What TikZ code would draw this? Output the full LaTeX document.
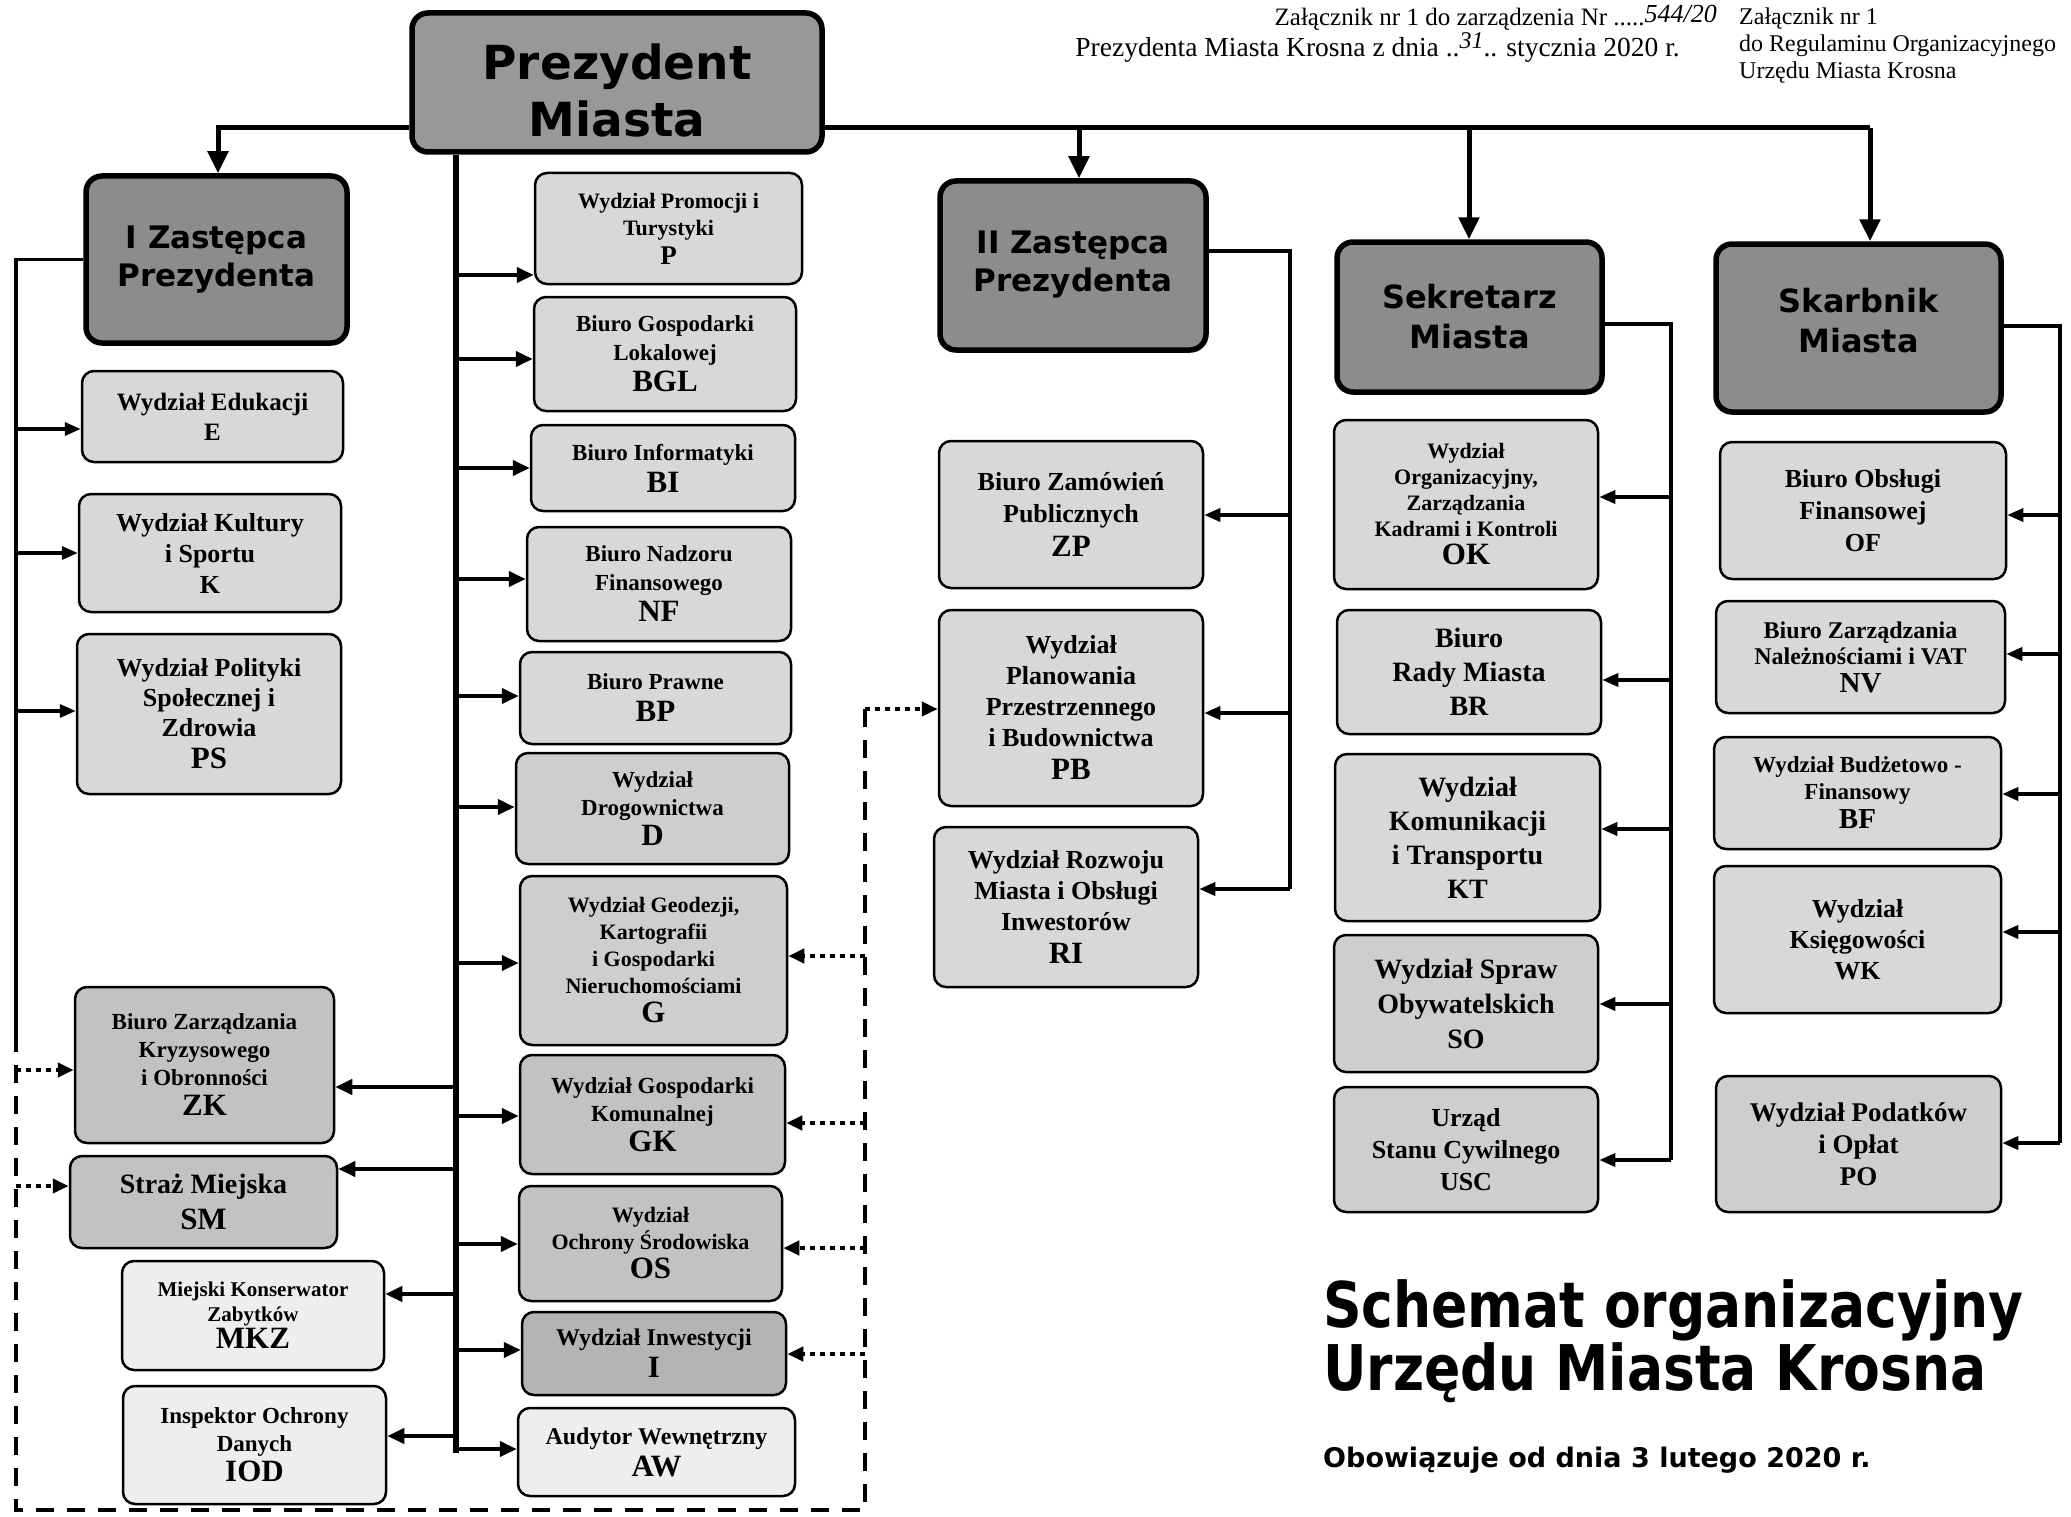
\documentclass[tikz,border=0pt]{standalone}
\usepackage{fontspec}
\setmainfont{Liberation Serif}
\newfontfamily\vsans{DejaVu Sans}
\newfontfamily\titlefont[FakeStretch=0.85]{DejaVu Sans}
\usetikzlibrary{arrows.meta}
\definecolor{gh}{RGB}{152,152,152}
\definecolor{gz}{RGB}{140,140,140}
\definecolor{gl}{RGB}{216,216,216}
\definecolor{gl2}{RGB}{206,206,206}
\definecolor{gm}{RGB}{194,194,194}
\definecolor{gd}{RGB}{180,180,180}
\definecolor{gv}{RGB}{238,238,238}
\newcommand{\tx}[2]{\fontsize{#1}{#2}\selectfont\bfseries}
\newcommand{\hx}[2]{\vsans\fontsize{#1}{#2}\selectfont\bfseries}
\newcommand{\ab}[2][31]{\\[2pt]{\fontsize{#1}{#1}\selectfont #2}}
\begin{document}
\begin{tikzpicture}[x=1pt,y=-1pt,
  box/.style={draw=black, line width=2.5pt, rounded corners=12pt, align=center, inner sep=2pt},
  lbox/.style={box, fill=gl},
  lbox2/.style={box, fill=gl2},
  mbox/.style={box, fill=gm},
  dbox/.style={box, fill=gd},
  vbox/.style={box, fill=gv},
  hd/.style={draw=black, line width=5.5pt, rounded corners=16pt, align=center, inner sep=2pt, fill=gz},
  mainline/.style={line width=5pt},
  mainarr/.style={line width=5pt, -{Triangle[length=22pt,width=20pt]}},
  spine/.style={line width=6pt},
  arr/.style={line width=4pt, -{Triangle[length=17pt,width=15pt]}},
  subline/.style={line width=3.5pt},
  arr2/.style={line width=3.5pt, -{Triangle[length=16pt,width=13pt]}},
  dashline/.style={line width=4pt, dash pattern=on 18pt off 13pt},
  dotarr/.style={line width=4pt, dash pattern=on 5pt off 5pt, -{Triangle[length=16pt,width=14pt]}},
  hdr/.style={inner sep=0pt}
]
\useasboundingbox[fill=white] (0,0) rectangle (2071,1517);

% ---------- header texts
\node[hdr, anchor=base east, font=\fontsize{25}{27}\selectfont] (h1) at (1717,26) {Załącznik nr 1 do zarządzenia Nr .....\raisebox{3pt}{\fontsize{26}{26}\selectfont\itshape 544/20}};
\node[hdr, anchor=base east, font=\fontsize{27.5}{30}\selectfont] (h2) at (1680,57) {Prezydenta Miasta Krosna z dnia ..\raisebox{8pt}{\fontsize{24}{24}\selectfont\itshape 31}.. stycznia 2020 r.};
\node[hdr, anchor=north west, align=left, font=\fontsize{24}{27}\selectfont] (h3) at (1739,8) {Załącznik nr 1\\do Regulaminu Organizacyjnego\\Urzędu Miasta Krosna};

% ---------- head boxes
\node[hd, fill=gh, minimum width=410pt, minimum height=139pt, font=\hx{47}{57}] (pm) at (617,82.5) {\rule{0pt}{51pt}Prezydent\\Miasta};
\node[hd, minimum width=261pt, minimum height=167pt, font=\hx{31}{38}] (z1) at (216.5,259.5) {I Zastępca\\Prezydenta};
\node[hd, minimum width=266pt, minimum height=169pt, font=\hx{31}{38}] (z2) at (1073,265.5) {II Zastępca\\Prezydenta\rule[-8pt]{0pt}{0pt}};
\node[hd, minimum width=265pt, minimum height=150pt, font=\hx{32}{40}] (sek) at (1469.5,317) {Sekretarz\\Miasta};
\node[hd, minimum width=285pt, minimum height=168pt, font=\hx{32}{40}] (ska) at (1858.5,328) {Skarbnik\\Miasta\rule[-16pt]{0pt}{0pt}};

% ---------- left column
\node[lbox, minimum width=261pt, minimum height=91pt, font=\tx{25}{30}] (E) at (212.5,416.5) {Wydział Edukacji\\E};
\node[lbox, minimum width=262pt, minimum height=118pt, font=\tx{26}{31}] (K) at (210,553) {Wydział Kultury\\i Sportu\\K};
\node[lbox, minimum width=264pt, minimum height=160pt, font=\tx{26}{30}] (PS) at (209,714) {Wydział Polityki\\Społecznej i\\Zdrowia\ab{PS}};
\node[mbox, minimum width=259pt, minimum height=156pt, font=\tx{23}{28}] (ZK) at (204.5,1065) {Biuro Zarządzania\\Kryzysowego\\i Obronności\ab{ZK}};
\node[mbox, minimum width=267pt, minimum height=92pt, font=\tx{28}{34}] (SM) at (203.5,1202) {Straż Miejska\ab{SM}};
\node[vbox, minimum width=262pt, minimum height=109pt, font=\tx{21}{25}] (MKZ) at (253,1315.5) {Miejski Konserwator\\Zabytków\ab{MKZ}};
\node[vbox, minimum width=263pt, minimum height=118pt, font=\tx{23}{28}] (IOD) at (254.5,1445) {Inspektor Ochrony\\Danych\ab{IOD}};

% ---------- middle column
\node[lbox, minimum width=267pt, minimum height=111pt, font=\tx{22}{27}] (P) at (668.5,228.5) {Wydział Promocji i\\Turystyki\ab[27]{P}};
\node[lbox, minimum width=262pt, minimum height=114pt, font=\tx{23}{29}] (BGL) at (665,354) {Biuro Gospodarki\\Lokalowej\ab{BGL}};
\node[lbox, minimum width=264pt, minimum height=86pt, font=\tx{23}{30}] (BI) at (663,468) {Biuro Informatyki\ab{BI}};
\node[lbox, minimum width=264pt, minimum height=114pt, font=\tx{23}{29}] (NF) at (659,584) {Biuro Nadzoru\\Finansowego\ab{NF}};
\node[lbox, minimum width=271pt, minimum height=92pt, font=\tx{23}{30}] (BP) at (655.5,698) {Biuro Prawne\ab{BP}};
\node[lbox2, minimum width=273pt, minimum height=111pt, font=\tx{23}{28}] (D) at (652.5,808.5) {Wydział\\Drogownictwa\ab{D}};
\node[lbox2, minimum width=267pt, minimum height=169pt, font=\tx{22}{27}] (G) at (653.5,960.5) {Wydział Geodezji,\\Kartografii\\i Gospodarki\\Nieruchomościami\ab{G}};
\node[mbox, minimum width=265pt, minimum height=119pt, font=\tx{23}{28}] (GK) at (652.5,1114.5) {Wydział Gospodarki\\Komunalnej\ab{GK}};
\node[mbox, minimum width=263pt, minimum height=115pt, font=\tx{22}{27}] (OS) at (650.5,1243.5) {Wydział\\Ochrony Środowiska\ab{OS}};
\node[dbox, minimum width=264pt, minimum height=83pt, font=\tx{24}{30}] (I) at (654,1353.5) {Wydział Inwestycji\ab{I}};
\node[vbox, minimum width=277pt, minimum height=88pt, font=\tx{24}{30}] (AW) at (656.5,1452) {Audytor Wewnętrzny\ab{AW}};

% ---------- II Zastepca column
\node[lbox, minimum width=264pt, minimum height=147pt, font=\tx{26}{32}] (ZP) at (1071,514.5) {Biuro Zamówień\\Publicznych\ab{ZP}};
\node[lbox, minimum width=264pt, minimum height=196pt, font=\tx{26}{31}] (PB) at (1071,708) {Wydział\\Planowania\\Przestrzennego\\i Budownictwa\ab{PB}};
\node[lbox, minimum width=264pt, minimum height=160pt, font=\tx{26}{31}] (RI) at (1066,907) {Wydział Rozwoju\\Miasta i Obsługi\\Inwestorów\ab{RI}};

% ---------- Sekretarz column
\node[lbox, minimum width=264pt, minimum height=169pt, font=\tx{22}{26}] (OK) at (1466,504.5) {Wydział\\Organizacyjny,\\Zarządzania\\Kadrami i Kontroli\ab{OK}};
\node[lbox, minimum width=264pt, minimum height=124pt, font=\tx{28}{34}] (BR) at (1469,672) {Biuro\\Rady Miasta\\BR};
\node[lbox, minimum width=265pt, minimum height=167pt, font=\tx{28}{34}] (KT) at (1467.5,837.5) {Wydział\\Komunikacji\\i Transportu\\KT};
\node[lbox2, minimum width=264pt, minimum height=137pt, font=\tx{28}{35}] (SO) at (1466,1003.5) {Wydział Spraw\\Obywatelskich\\SO};
\node[lbox2, minimum width=264pt, minimum height=125pt, font=\tx{26}{32}] (USC) at (1466,1149.5) {Urząd\\Stanu Cywilnego\\USC};

% ---------- Skarbnik column
\node[lbox, minimum width=286pt, minimum height=137pt, font=\tx{26}{32}] (OF) at (1863,510.5) {Biuro Obsługi\\Finansowej\\OF};
\node[lbox, minimum width=289pt, minimum height=112pt, font=\tx{24}{26}] (NV) at (1860.5,657) {Biuro Zarządzania\\Należnościami i VAT\ab[29]{NV}};
\node[lbox, minimum width=287pt, minimum height=112pt, font=\tx{23}{27}] (BF) at (1857.5,793) {Wydział Budżetowo -\\Finansowy\ab[29]{BF}};
\node[lbox, minimum width=287pt, minimum height=147pt, font=\tx{26}{31}] (WK) at (1857.5,939.5) {Wydział\\Księgowości\\WK};
\node[lbox2, minimum width=285pt, minimum height=136pt, font=\tx{27}{32}] (PO) at (1858.5,1144) {Wydział Podatków\\i Opłat\\PO};

% ---------- title
\node[inner sep=0pt, anchor=base west, font=\titlefont\bfseries\fontsize{63}{63}\selectfont] (t1) at (1323,1327) {Schemat organizacyjny};
\node[inner sep=0pt, anchor=base west, font=\titlefont\bfseries\fontsize{63}{63}\selectfont] (t2) at (1323,1390) {Urzędu Miasta Krosna};
\node[inner sep=0pt, anchor=base west, font=\vsans\bfseries\fontsize{27}{27}\selectfont] (t3) at (1323,1467) {Obowiązuje od dnia 3 lutego 2020 r.};

% ---------- top connectors
\coordinate (hl) at (218,128);
\coordinate (hr) at (1870,128);
\coordinate (ax2) at (1079,128);
\coordinate (ax3) at (1469,128);
\draw[mainarr] (pm.west |- hl) -- (hl) -- (hl |- z1.north);
\draw[mainline] (pm.east |- hr) -- (hr);
\draw[mainarr] (ax2) -- (ax2 |- z2.north);
\draw[mainarr] (ax3) -- (ax3 |- sek.north);
\draw[mainarr] (hr) -- (hr |- ska.north);

% ---------- spine
\coordinate (spt) at (456,0);
\coordinate (spb) at (456,1453);
\draw[spine] (spt |- pm.south) -- (spb);
\foreach \n/\yy in {P/275,BGL/359,BI/468,NF/579,BP/696,D/807,G/963,GK/1116,OS/1244,I/1350,AW/1449}{
  \coordinate (s\n) at (456,\yy);
  \draw[arr] (s\n) -- (s\n -| \n.west);
}
\foreach \n/\yy in {ZK/1087,SM/1169,MKZ/1294,IOD/1436}{
  \coordinate (s\n) at (456,\yy);
  \draw[arr] (s\n) -- (s\n -| \n.east);
}

% ---------- I Zastepca line
\coordinate (Ltop) at (16,259.5);
\coordinate (Lbot) at (16,1043);
\draw[subline] (z1.west) -- (Ltop) -- (Lbot);
\foreach \n/\yy in {E/429,K/553,PS/711}{
  \coordinate (l\n) at (16,\yy);
  \draw[arr2] (l\n) -- (l\n -| \n.west);
}

% ---------- dashed loop and dotted arrows
\coordinate (Dt) at (865,709);
\coordinate (Dbr) at (865,1510);
\coordinate (Dbl) at (16,1510);
\draw[dashline] (Dt) -- (Dbr) -- (Dbl) -- (Lbot);
\draw[dotarr] (Dt) -- (Dt -| PB.west);
\foreach \n/\yy in {G/956,GK/1123,OS/1248,I/1354}{
  \coordinate (d\n) at (865,\yy);
  \draw[dotarr] (d\n) -- (d\n -| \n.east);
}
\foreach \n/\yy in {ZK/1070,SM/1186}{
  \coordinate (d\n) at (16,\yy);
  \draw[dotarr] (d\n) -- (d\n -| \n.west);
}

% ---------- II Zastepca line
\coordinate (Zt) at (1290,251);
\coordinate (Zb) at (1290,889);
\draw[subline] (Zt -| z2.east) -- (Zt) -- (Zb);
\foreach \n/\yy in {ZP/515,PB/713,RI/889}{
  \coordinate (z\n) at (1290,\yy);
  \draw[arr2] (z\n) -- (z\n -| \n.east);
}

% ---------- Sekretarz line
\coordinate (St) at (1671,324);
\coordinate (Sb) at (1671,1160);
\draw[subline] (St -| sek.east) -- (St) -- (Sb);
\foreach \n/\yy in {OK/497,BR/680,KT/829,SO/1004,USC/1160}{
  \coordinate (e\n) at (1671,\yy);
  \draw[arr2] (e\n) -- (e\n -| \n.east);
}

% ---------- Skarbnik line
\coordinate (Kt) at (2060,326);
\coordinate (Kb) at (2060,1143);
\draw[subline] (Kt -| ska.east) -- (Kt) -- (Kb);
\foreach \n/\yy in {OF/515,NV/654,BF/794,WK/932,PO/1143}{
  \coordinate (k\n) at (2060,\yy);
  \draw[arr2] (k\n) -- (k\n -| \n.east);
}
\end{tikzpicture}
\end{document}
